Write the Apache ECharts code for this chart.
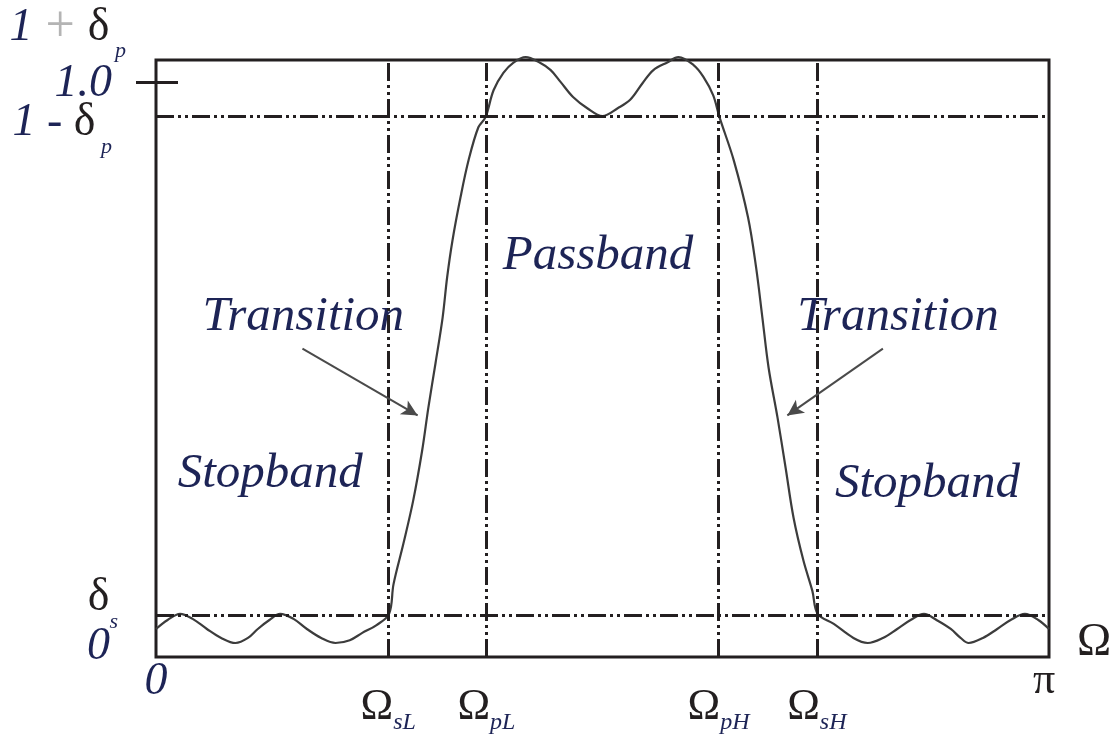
<!DOCTYPE html>
<html>
<head>
<meta charset="utf-8">
<title>Band-pass filter magnitude response</title>
<script src="https://cdn.jsdelivr.net/npm/echarts@6/dist/echarts.min.js"></script>
<style>
  html, body { margin: 0; padding: 0; background: #ffffff; }
  #chart { width: 1116px; height: 736px; }
</style>
</head>
<body>
<div id="chart"></div>
<script>
// Normalised frequency (fraction of pi) and magnitude of the response curve
const freq = [
  0.000, 0.013, 0.027, 0.041, 0.057, 0.073, 0.089, 0.103, 0.114, 0.127,
  0.139, 0.154, 0.169, 0.185, 0.201, 0.217, 0.231, 0.247, 0.261,
  0.266, 0.277, 0.288, 0.298, 0.305, 0.313, 0.321, 0.326, 0.332, 0.341,
  0.350, 0.361, 0.369,
  0.378, 0.389, 0.400, 0.414, 0.430, 0.442, 0.453, 0.467, 0.483, 0.500,
  0.517, 0.531, 0.545, 0.557, 0.573, 0.585, 0.602, 0.613, 0.624, 0.631,
  0.647, 0.663, 0.672, 0.679, 0.686, 0.696, 0.705, 0.714, 0.725, 0.735, 0.741,
  0.759, 0.781, 0.797, 0.814, 0.830, 0.845, 0.860, 0.874, 0.890, 0.901,
  0.910, 0.926, 0.942, 0.957, 0.973, 0.988, 1.000
];
const magnitude = [
  0.025, 0.041, 0.052, 0.043, 0.025, 0.009, 0.000, 0.009, 0.025, 0.041,
  0.052, 0.043, 0.025, 0.009, 0.000, 0.005, 0.018, 0.032, 0.052,
  0.105, 0.177, 0.254, 0.343, 0.420, 0.499, 0.581, 0.652, 0.718, 0.795,
  0.861, 0.920, 0.938,
  0.986, 1.017, 1.035, 1.045, 1.035, 1.022, 1.001, 0.974, 0.954, 0.940,
  0.954, 0.969, 0.999, 1.022, 1.036, 1.045, 1.031, 1.010, 0.977, 0.938,
  0.861, 0.759, 0.670, 0.581, 0.491, 0.402, 0.313, 0.223, 0.147, 0.093, 0.052,
  0.034, 0.009, 0.000, 0.009, 0.025, 0.041, 0.052, 0.041, 0.025, 0.009,
  0.000, 0.009, 0.025, 0.041, 0.052, 0.041, 0.025
];

// Band edges (fraction of pi) and their subscripts
const edgeFreq = [0.26, 0.37, 0.63, 0.74];
const edgeNames = ['sL', 'pL', 'pH', 'sH'];

// Tolerance levels
const passLower = 0.94;   // 1 - delta_p
const stopUpper = 0.05;   // delta_s
const unityLevel = 1.0;

// Level labels on the magnitude axis: value, rich text, vertical nudge (px)
const levelValues = [unityLevel, unityLevel, passLower, stopUpper, 0];
const levelTexts = [
  '{n|1}{p| + }{g|δ}{s| p}',
  '{n|1.0}',
  '{n|1}{m| - }{g|δ}{s| p}',
  '{g|δ}{s|s}',
  '{n|0}'
];
const levelNudge = [-55, 1, 7, -17, 4];
const levelRight = [126, 112, 112, 118, 110];

// Arrows pointing at the transition bands: [tail, tip]
const arrowLeft = [[0.164, 0.525], [0.293, 0.406]];
const arrowRight = [[0.814, 0.525], [0.707, 0.406]];

// Band annotations: text and position in data space
const bandTexts = ['Passband', 'Transition', 'Transition', 'Stopband', 'Stopband'];
const bandPos = [[0.495, 0.690], [0.165, 0.582], [0.831, 0.582], [0.128, 0.302], [0.864, 0.283]];

const NAVY = '#1d2456';
const INK = '#231f20';
const SERIF = '"Liberation Serif", "Times New Roman", serif';

const dashDot = [18, 4, 3, 4, 3, 4];

const curve = freq.map((f, i) => [f, magnitude[i]]);

const chart = echarts.init(document.getElementById('chart'), null, { renderer: 'canvas' });

chart.setOption({
  animation: false,
  backgroundColor: '#ffffff',
  grid: {
    left: 156, right: 67, top: 60, bottom: 79,
    show: true, borderColor: INK, borderWidth: 3, backgroundColor: 'transparent'
  },
  xAxis: {
    type: 'value', min: 0, max: 1,
    axisLine: { show: false }, axisTick: { show: false }, splitLine: { show: false },
    axisLabel: {
      customValues: [0, 1],
      margin: 2,
      formatter: v => (v === 0 ? '{z|0}' : '{pi|π}'),
      rich: {
        z: { fontFamily: SERIF, fontStyle: 'italic', fontSize: 46, color: NAVY },
        pi: { fontFamily: SERIF, fontSize: 44, color: INK, padding: [0, 10, 0, 0] }
      }
    },
    name: 'Ω', nameLocation: 'end', nameGap: 28,
    nameTextStyle: { fontFamily: SERIF, fontSize: 46, color: INK, padding: [0, 0, 6, 0] }
  },
  yAxis: [
    {
      type: 'value', min: -0.025, max: 1.04,
      axisLine: { show: false }, splitLine: { show: false }, axisLabel: { show: false },
      axisTick: { show: true, customValues: [unityLevel], length: 20, lineStyle: { color: INK, width: 3 } }
    },
    {
      type: 'value', min: -0.025, max: 1.04, position: 'left',
      axisLine: { show: false }, splitLine: { show: false }, axisLabel: { show: false },
      axisTick: { show: true, inside: true, customValues: [unityLevel], length: 22, lineStyle: { color: INK, width: 3 } }
    }
  ],
  series: [
    {
      name: 'tolerance',
      type: 'line', data: [], silent: true,
      markLine: {
        silent: true, symbol: 'none',
        lineStyle: { color: INK, width: 3, type: dashDot },
        label: { show: false },
        data: [{ yAxis: passLower }, { yAxis: stopUpper }]
      }
    },
    {
      name: 'edges',
      type: 'line', data: [], silent: true,
      markLine: {
        silent: true, symbol: 'none',
        lineStyle: { color: INK, width: 3, type: dashDot },
        label: {
          show: true, position: 'start', distance: 22,
          rich: {
            o: { fontFamily: SERIF, fontSize: 44, color: INK, lineHeight: 56 },
            s: { fontFamily: SERIF, fontStyle: 'italic', fontSize: 24, color: NAVY, lineHeight: 22, verticalAlign: 'bottom' }
          }
        },
        data: edgeFreq.map((f, i) => ({ xAxis: f, label: { formatter: '{o|Ω}{s|' + edgeNames[i] + '}' } }))
      }
    },
    {
      name: 'arrows',
      type: 'line', data: [], silent: true,
      markLine: {
        silent: true, symbol: ['none', 'arrow'], symbolSize: [12, 16],
        lineStyle: { color: '#4a4a4a', width: 2, type: 'solid' },
        label: { show: false },
        data: [
          [{ coord: arrowLeft[0] }, { coord: arrowLeft[1] }],
          [{ coord: arrowRight[0] }, { coord: arrowRight[1] }]
        ]
      }
    },
    {
      name: '|H|',
      type: 'line', data: curve, smooth: 0.35, clip: false,
      showSymbol: false, silent: true,
      lineStyle: { color: '#3c3c3c', width: 2.2 }
    }
  ]
});

// Level labels and band annotations placed through the axis scales
const levelRich = {
  n: { fontFamily: SERIF, fontStyle: 'italic', fontSize: 46, fill: NAVY, lineHeight: 70 },
  g: { fontFamily: SERIF, fontSize: 46, fill: INK, lineHeight: 70 },
  m: { fontFamily: SERIF, fontSize: 46, fill: NAVY, lineHeight: 70 },
  p: { fontFamily: SERIF, fontSize: 52, fill: '#b4b4b4', lineHeight: 70 },
  s: { fontFamily: SERIF, fontStyle: 'italic', fontSize: 22, fill: NAVY, lineHeight: 22, verticalAlign: 'bottom' }
};

const graphics = levelValues.map((v, i) => ({
  type: 'text',
  x: levelRight[i],
  y: chart.convertToPixel({ yAxisIndex: 0 }, v) + levelNudge[i],
  style: { text: levelTexts[i], align: 'right', verticalAlign: 'middle', rich: levelRich }
}));

bandTexts.forEach((t, i) => {
  const p = chart.convertToPixel({ gridIndex: 0 }, bandPos[i]);
  graphics.push({
    type: 'text', x: p[0], y: p[1],
    style: { text: t, font: 'italic 49px ' + SERIF, fill: NAVY, align: 'center', verticalAlign: 'middle' }
  });
});

chart.setOption({ graphic: graphics });
</script>
</body>
</html>
